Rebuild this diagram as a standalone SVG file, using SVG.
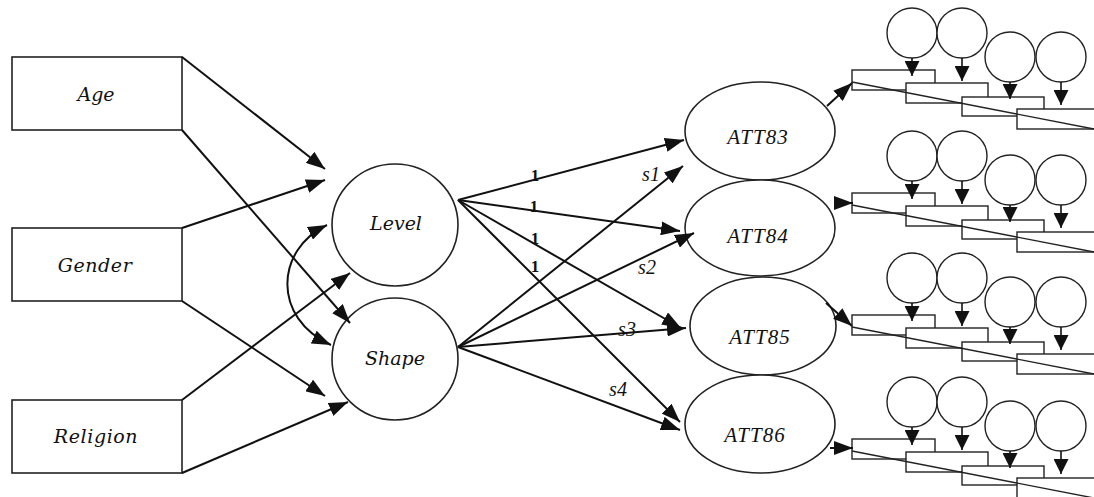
<svg xmlns="http://www.w3.org/2000/svg" width="1094" height="497" viewBox="0 0 1094 497">
  <style>
    .box { fill: #fff; stroke: #222; stroke-width: 1.6; }
    .lat { fill: #fff; stroke: #222; stroke-width: 1.6; }
    .lbl { font-family: "DejaVu Serif", serif; font-style: italic; font-size: 19px; fill: #111; text-anchor: middle; }
    .att { font-family: "Liberation Serif", serif; font-style: italic; font-size: 21px; fill: #111; text-anchor: middle; letter-spacing: 1px; }
    .one { font-family: "Liberation Serif", serif; font-weight: bold; font-size: 17px; fill: #111; text-anchor: middle; }
    .sl { font-family: "Liberation Serif", serif; font-style: italic; font-size: 20px; fill: #111; text-anchor: middle; }
    .arr { fill: none; stroke: #111; stroke-width: 2; marker-end: url(#ah); }
    .ind { fill: #fff; stroke: #222; stroke-width: 1.4; }
    .err { fill: #fff; stroke: #222; stroke-width: 1.4; }
    .stem { stroke: #111; stroke-width: 1.6; marker-end: url(#sh); }
    .diag { stroke: #222; stroke-width: 1.4; }
  </style>
  <defs>
    <marker id="ah" viewBox="0 0 19 14" refX="19" refY="7" markerWidth="19" markerHeight="14" markerUnits="userSpaceOnUse" orient="auto-start-reverse">
      <path d="M0,0 L19,7 L0,14 z" fill="#111"/>
    </marker>
    <marker id="sh" viewBox="0 0 15 15" refX="15" refY="7.5" markerWidth="15" markerHeight="15" markerUnits="userSpaceOnUse" orient="auto">
      <path d="M0,0 L15,7.5 L0,15 z" fill="#111"/>
    </marker>
    <!-- indicator block: four error circles over four staggered item boxes -->
    <g id="items">
      <circle class="err" cx="912" cy="33" r="25"/>
      <circle class="err" cx="962" cy="33" r="25"/>
      <circle class="err" cx="1010" cy="57" r="25"/>
      <circle class="err" cx="1061" cy="57" r="25"/>
      <rect class="ind" x="852" y="70" width="83" height="20"/>
      <rect class="ind" x="906" y="83" width="82" height="20"/>
      <rect class="ind" x="962" y="97" width="82" height="19"/>
      <rect class="ind" x="1017" y="109" width="90" height="20"/>
      <line class="stem" x1="912" y1="58" x2="912" y2="76"/>
      <line class="stem" x1="962" y1="58" x2="962" y2="81"/>
      <line class="stem" x1="1010" y1="82" x2="1010" y2="99"/>
      <line class="stem" x1="1061" y1="82" x2="1061" y2="105"/>
      <line class="diag" x1="852" y1="82" x2="1094" y2="129"/>
    </g>
  </defs>

  <rect width="1094" height="497" fill="#fff"/>

  <!-- covariates -->
  <g id="age">
    <rect class="box" x="12" y="57" width="170" height="73"/>
    <text class="lbl" x="96" y="101">Age</text>
  </g>
  <g id="gender">
    <rect class="box" x="12" y="228" width="170" height="73"/>
    <text class="lbl" x="95" y="272" style="letter-spacing:0.6px">Gender</text>
  </g>
  <g id="religion">
    <rect class="box" x="12" y="400" width="170" height="73"/>
    <text class="lbl" x="96" y="443" style="letter-spacing:0.6px">Religion</text>
  </g>

  <!-- growth factors -->
  <g id="level">
    <ellipse class="lat" cx="395" cy="225" rx="63" ry="61"/>
    <text class="lbl" x="396" y="230">Level</text>
  </g>
  <g id="shape">
    <ellipse class="lat" cx="395" cy="359" rx="63" ry="61"/>
    <text class="lbl" x="395" y="365">Shape</text>
  </g>

  <!-- attitude occasions -->
  <g id="att83">
    <ellipse class="lat" cx="760" cy="131" rx="75" ry="49"/>
    <text class="att" x="758" y="144">ATT83</text>
  </g>
  <g id="att84">
    <ellipse class="lat" cx="760" cy="228" rx="75" ry="48"/>
    <text class="att" x="758" y="243">ATT84</text>
  </g>
  <g id="att85">
    <ellipse class="lat" cx="763" cy="326" rx="73" ry="49"/>
    <text class="att" x="760" y="344">ATT85</text>
  </g>
  <g id="att86">
    <ellipse class="lat" cx="760" cy="424" rx="75" ry="49"/>
    <text class="att" x="755" y="442">ATT86</text>
  </g>

  <!-- indicator blocks -->
  <g id="items83"><use href="#items"/></g>
  <g id="items84"><use href="#items" transform="translate(0,123)"/></g>
  <g id="items85"><use href="#items" transform="translate(0,245)"/></g>
  <g id="items86"><use href="#items" transform="translate(0,369)"/></g>

  <g id="connectors">
    <!-- covariates to growth factors -->
    <line class="arr" x1="182" y1="57" x2="325" y2="169"/>
    <line class="arr" x1="182" y1="130" x2="350" y2="323"/>
    <line class="arr" x1="182" y1="228" x2="325" y2="180"/>
    <line class="arr" x1="182" y1="301" x2="325" y2="396"/>
    <line class="arr" x1="182" y1="400" x2="350" y2="273"/>
    <line class="arr" x1="182" y1="473" x2="348" y2="402"/>
    <!-- factor covariance -->
    <path class="arr" d="M327,225 C275,250 272,318 331,345" style="marker-start:url(#ah)"/>
    <!-- level loadings -->
    <line class="arr" x1="458" y1="200" x2="684" y2="140"/>
    <line class="arr" x1="458" y1="200" x2="680" y2="231"/>
    <line class="arr" x1="458" y1="200" x2="681" y2="328"/>
    <line class="arr" x1="458" y1="200" x2="680" y2="422"/>
    <!-- shape loadings -->
    <line class="arr" x1="458" y1="347" x2="683" y2="166"/>
    <line class="arr" x1="458" y1="347" x2="694" y2="233"/>
    <line class="arr" x1="458" y1="347" x2="686" y2="328"/>
    <line class="arr" x1="458" y1="347" x2="680" y2="430"/>
    <!-- occasions to indicator blocks -->
    <line class="arr" x1="827" y1="106" x2="852" y2="83"/>
    <line class="arr" x1="834" y1="203" x2="853" y2="203"/>
    <line class="arr" x1="826" y1="303" x2="852" y2="326"/>
    <line class="arr" x1="830" y1="448" x2="853" y2="448"/>
  </g>

  <g id="loading-labels">
    <text class="one" x="535" y="181">1</text>
    <text class="one" x="534" y="212">1</text>
    <text class="one" x="535" y="244">1</text>
    <text class="one" x="535" y="272">1</text>
    <text class="sl" x="651" y="181">s1</text>
    <text class="sl" x="647" y="274">s2</text>
    <text class="sl" x="627" y="336">s3</text>
    <text class="sl" x="618" y="396">s4</text>
  </g>
</svg>
